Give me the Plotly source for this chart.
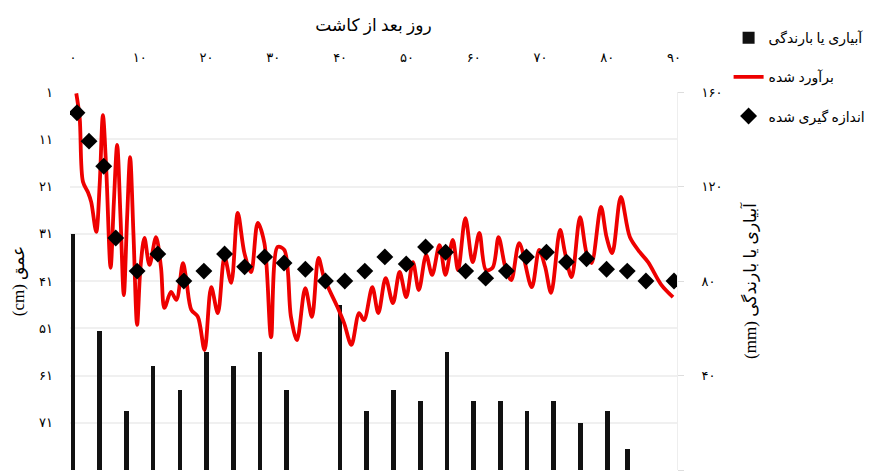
import plotly.graph_objects as go

# ---- data ----
# irrigation / rainfall (mm), right axis
irr_day = [0, 4, 8, 12, 16, 20, 24, 28, 32, 40, 44, 48, 52, 56, 60, 64, 68, 72, 76, 80, 83]
irr_mm = [100, 59, 25, 44, 34, 50, 44, 50, 34, 70, 25, 34, 29, 50, 29, 29, 25, 29, 20, 25, 9]

# measured depth (cm)
meas_day = [0.6, 2.4, 4.6, 6.4, 9.6, 12.7, 16.6, 19.6, 22.7, 25.7, 28.7, 31.6, 34.8, 37.8, 40.7,
            43.7, 46.7, 49.9, 52.8, 55.8, 58.8, 61.8, 64.9, 67.9, 70.9, 73.9, 76.9, 79.9, 83.0, 85.8, 90.0]
meas_depth = [5.4, 11.4, 16.7, 31.9, 38.9, 35.3, 41.0, 38.9, 35.3, 38.0, 35.9, 37.2, 38.5, 41.0, 41.0,
              38.9, 35.9, 37.4, 33.8, 34.9, 38.9, 40.4, 38.9, 35.9, 34.9, 37.0, 36.3, 38.5, 38.9, 41.0, 41.0]

# estimated depth (cm)
est_day = [0.49, 1.0, 1.49, 2.24, 2.73, 3.48, 3.99, 4.48, 4.97, 5.63, 6.12, 6.61, 7.12, 7.61, 8.10,
           8.55, 9.06, 9.60, 10.10, 10.70, 11.45, 12.43, 13.18, 13.69, 14.67, 15.48, 16.46, 16.97,
           17.72, 18.70, 19.70, 20.70, 21.69, 22.69, 23.69, 24.67, 25.67, 26.67, 27.66, 28.66, 29.66,
           30.64, 31.64, 32.64, 33.54, 34.78, 35.78, 36.76, 37.61, 39.60, 40.60, 41.69, 42.84, 43.58,
           44.82, 45.72, 46.82, 47.91, 48.91, 49.90, 50.90, 51.79, 52.88, 53.78, 54.88, 55.78, 56.87,
           57.66, 58.76, 59.85, 60.85, 61.84, 62.84, 63.73, 64.73, 65.63, 66.82, 68.70, 69.81, 70.70,
           71.60, 72.94, 73.69, 74.67, 75.93, 76.91, 77.66, 79.06, 79.90, 80.75, 82.04, 83.39, 84.88,
           86.12, 88.10, 89.85]
est_depth = [1.3, 6.5, 20.0, 22.2, 24.3, 30.6, 20.7, 5.9, 17.1, 38.2, 24.3, 12.2, 27.7, 44.0, 27.7,
             14.8, 31.3, 50.3, 38.2, 31.9, 37.6, 31.7, 38.2, 46.7, 43.3, 45.0, 37.2, 40.8,
             47.1, 48.6, 55.6, 42.3, 47.8, 35.9, 41.4, 26.6, 35.1, 39.1, 28.7, 33.0, 52.9,
             33.8, 34.4, 48.6, 53.5, 42.5, 48.6, 36.1, 40.4, 46.5, 49.9, 54.5, 47.8, 49.3,
             42.3, 47.8, 40.4, 45.7, 39.1, 44.4, 37.0, 42.9, 35.5, 39.7, 33.4, 39.7, 32.3,
             38.7, 27.7, 37.0, 30.8, 38.7, 38.2, 31.7, 38.0, 40.8, 33.0, 42.3, 34.4, 38.0,
             43.5, 30.2, 35.1, 40.2, 27.5, 35.1, 37.2, 25.3, 31.7, 35.1, 23.2, 31.7, 34.9,
             37.0, 41.8, 44.4]

# tick labels
x_tickvals = [0, 10, 20, 30, 40, 50, 60, 70, 80, 90]
x_ticktext = ["۰", "۱۰", "۲۰", "۳۰", "۴۰", "۵۰", "۶۰", "۷۰", "۸۰", "۹۰"]
depth_tickvals = [1, 11, 21, 31, 41, 51, 61, 71]
depth_ticktext = ["۱", "۱۱", "۲۱", "۳۱", "۴۱", "۵۱", "۶۱", "۷۱"]
mm_tickvals = [0, 40, 80, 120, 160]
mm_ticktext = ["۰", "۴۰", "۸۰", "۱۲۰", "۱۶۰"]

FONT = "Liberation Serif, DejaVu Sans, serif"

fig = go.Figure()

fig.add_trace(go.Bar(
    x=irr_day, y=irr_mm, width=0.7, marker=dict(color="#111111", line=dict(width=0)),
    name="آبیاری یا بارندگی", yaxis="y", legendgroup="a",
))
fig.add_trace(go.Scatter(
    x=est_day, y=est_depth, mode="lines", line=dict(color="#ee0000", width=3.8, shape="spline", smoothing=0.9),
    name="برآورد شده", yaxis="y2", legendgroup="b",
))
fig.add_trace(go.Scatter(
    x=meas_day, y=meas_depth, mode="markers", marker=dict(symbol="diamond", size=13, color="black"),
    name="اندازه گیری شده", yaxis="y2", legendgroup="c",
))

fig.update_layout(
    width=869, height=465,
    margin=dict(l=62, r=200, t=84, b=3, autoexpand=False),
    paper_bgcolor="white", plot_bgcolor="white",
    font=dict(family=FONT, color="black", size=13),
    bargap=0,
    xaxis=dict(
        side="top", range=[-0.45, 90.45], tickvals=x_tickvals, ticktext=x_ticktext,
        showgrid=False, zeroline=False, ticks="", ticklabelstandoff=26, automargin=False,
        tickfont=dict(size=13),
        title=dict(text="روز بعد از کاشت", font=dict(size=17), standoff=14),
    ),
    yaxis=dict(
        side="right", range=[0, 160], tickvals=mm_tickvals, ticktext=mm_ticktext,
        showgrid=False, zeroline=False, ticks="outside", ticklen=6, tickcolor="#dddddd",
        showline=True, linecolor="#eeeeee", ticklabelstandoff=15, tickfont=dict(size=13),
        automargin=False,
        title=dict(text="(mm) آبیاری یا بارندگی", font=dict(size=17), standoff=22),
    ),
    yaxis2=dict(
        side="left", overlaying="y", range=[81, 1], tickvals=depth_tickvals, ticktext=depth_ticktext,
        showgrid=True, gridcolor="#f0f0f0", gridwidth=1.5, zeroline=False, ticks="",
        ticklabelstandoff=16, tickfont=dict(size=13), automargin=False,
        title=dict(text="(cm) عمق", font=dict(size=17), standoff=10),
    ),
    legend=dict(
        x=1.085, y=1.185, xanchor="left", yanchor="top", bgcolor="rgba(0,0,0,0)",
        font=dict(size=14), tracegroupgap=18, traceorder="grouped",
    ),
    showlegend=True,
)

fig.write_html("out.html")
